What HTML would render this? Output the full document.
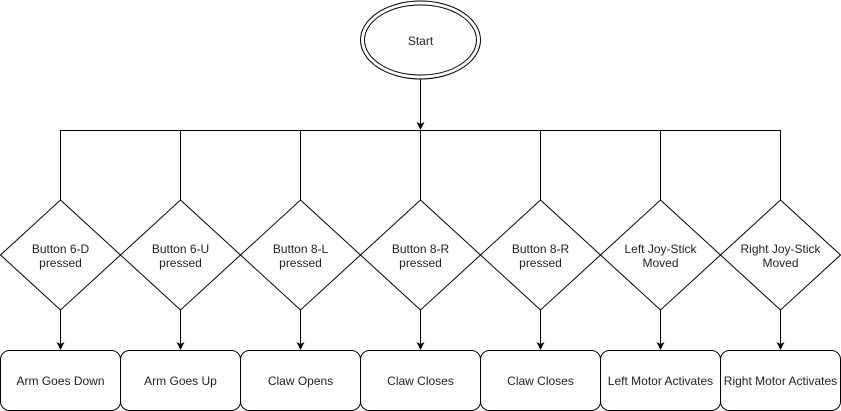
<!DOCTYPE html>
<html><head><meta charset="utf-8"><style>
html,body{margin:0;padding:0;background:#fff;}
svg{display:block;}
text{font-family:"Liberation Sans",Arial,sans-serif;font-size:12px;fill:#222;text-anchor:middle;}
</style></head><body>
<svg width="841" height="411" viewBox="0 0 841 411" xmlns="http://www.w3.org/2000/svg">
<defs><marker id="a" markerWidth="8" markerHeight="8" refX="7" refY="4" orient="auto" markerUnits="userSpaceOnUse"><path d="M0,0 L8,4 L0,8 L2,4 z" fill="#000"/></marker></defs>
<g fill="none" stroke="#000" stroke-width="1">
<ellipse cx="420.5" cy="40" rx="60" ry="39"/>
<ellipse cx="420.5" cy="40" rx="56" ry="35"/>
<line x1="420.5" y1="79" x2="420.5" y2="129" marker-end="url(#a)"/>
<line x1="60.5" y1="130.5" x2="780.5" y2="130.5"/>
</g>
<g id="cols"></g>
<g fill="none" stroke="#000">
<line x1="60.5" y1="130" x2="60.5" y2="200"/><line x1="180.5" y1="130" x2="180.5" y2="200"/><line x1="300.5" y1="130" x2="300.5" y2="200"/><line x1="420.5" y1="130" x2="420.5" y2="200"/><line x1="540.5" y1="130" x2="540.5" y2="200"/><line x1="660.5" y1="130" x2="660.5" y2="200"/><line x1="780.5" y1="130" x2="780.5" y2="200"/>
<path d="M60.5,200 L120.5,255 L60.5,310 L0.5,255 Z"/><path d="M180.5,200 L240.5,255 L180.5,310 L120.5,255 Z"/><path d="M300.5,200 L360.5,255 L300.5,310 L240.5,255 Z"/><path d="M420.5,200 L480.5,255 L420.5,310 L360.5,255 Z"/><path d="M540.5,200 L600.5,255 L540.5,310 L480.5,255 Z"/><path d="M660.5,200 L720.5,255 L660.5,310 L600.5,255 Z"/><path d="M780.5,200 L840.5,255 L780.5,310 L720.5,255 Z"/>
<line x1="60.5" y1="310" x2="60.5" y2="349" marker-end="url(#a)"/><line x1="180.5" y1="310" x2="180.5" y2="349" marker-end="url(#a)"/><line x1="300.5" y1="310" x2="300.5" y2="349" marker-end="url(#a)"/><line x1="420.5" y1="310" x2="420.5" y2="349" marker-end="url(#a)"/><line x1="540.5" y1="310" x2="540.5" y2="349" marker-end="url(#a)"/><line x1="660.5" y1="310" x2="660.5" y2="349" marker-end="url(#a)"/><line x1="780.5" y1="310" x2="780.5" y2="349" marker-end="url(#a)"/>
<rect x="0.5" y="350.5" width="120" height="60" rx="9"/><rect x="120.5" y="350.5" width="120" height="60" rx="9"/><rect x="240.5" y="350.5" width="120" height="60" rx="9"/><rect x="360.5" y="350.5" width="120" height="60" rx="9"/><rect x="480.5" y="350.5" width="120" height="60" rx="9"/><rect x="600.5" y="350.5" width="120" height="60" rx="9"/><rect x="720.5" y="350.5" width="120" height="60" rx="9"/>
</g>
<text x="420.5" y="45">Start</text>
<text x="60.5" y="253">Button 6-D</text><text x="60.5" y="267">pressed</text>
<text x="180.5" y="253">Button 6-U</text><text x="180.5" y="267">pressed</text>
<text x="300.5" y="253">Button 8-L</text><text x="300.5" y="267">pressed</text>
<text x="420.5" y="253">Button 8-R</text><text x="420.5" y="267">pressed</text>
<text x="540.5" y="253">Button 8-R</text><text x="540.5" y="267">pressed</text>
<text x="660.5" y="253">Left Joy-Stick</text><text x="660.5" y="267">Moved</text>
<text x="780.5" y="253">Right Joy-Stick</text><text x="780.5" y="267">Moved</text>
<text x="60.5" y="385">Arm Goes Down</text>
<text x="180.5" y="385">Arm Goes Up</text>
<text x="300.5" y="385">Claw Opens</text>
<text x="420.5" y="385">Claw Closes</text>
<text x="540.5" y="385">Claw Closes</text>
<text x="660.5" y="385">Left Motor Activates</text>
<text x="780.5" y="385">Right Motor Activates</text>
</svg>
</body></html>
